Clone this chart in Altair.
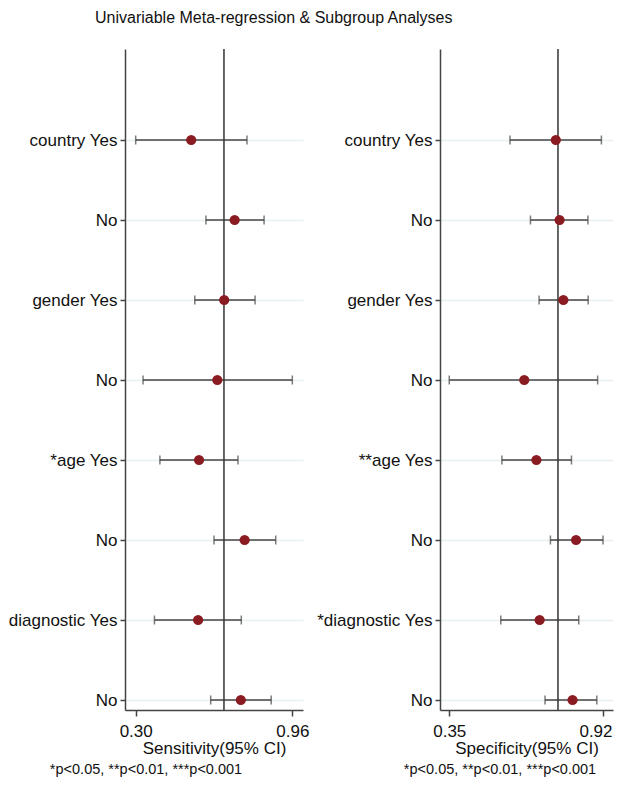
import altair as alt
import pandas as pd

# Subgroup rows, top to bottom
sens_labels = ["country Yes", "No", "gender Yes", "No", "*age Yes", "No", "diagnostic Yes", "No"]
spec_labels = ["country Yes", "No", "gender Yes", "No", "**age Yes", "No", "*diagnostic Yes", "No"]

# Sensitivity: point estimate with 95% CI
sens_est = [0.534, 0.717, 0.673, 0.644, 0.567, 0.759, 0.563, 0.743]
sens_lo = [0.30, 0.596, 0.549, 0.331, 0.402, 0.630, 0.379, 0.616]
sens_hi = [0.769, 0.841, 0.803, 0.96, 0.731, 0.890, 0.745, 0.871]
sens_pooled = 0.672
sens_ticks = [0.30, 0.96]

# Specificity: point estimate with 95% CI
spec_est = [0.745, 0.759, 0.773, 0.628, 0.673, 0.820, 0.685, 0.807]
spec_lo = [0.575, 0.651, 0.683, 0.35, 0.545, 0.725, 0.541, 0.705]
spec_hi = [0.914, 0.864, 0.865, 0.900, 0.803, 0.92, 0.830, 0.897]
spec_pooled = 0.753
spec_ticks = [0.35, 0.92]

footnote = "*p<0.05, **p<0.01, ***p<0.001"
FONT = "Liberation Sans"
H = 661


def panel(est, lo, hi, pooled, labels, ticks, xtitle, xdom, width, extent, note_x, pull_last=0):
    df = pd.DataFrame({"row": list(range(len(est))), "est": est, "lo": lo, "hi": hi})
    arr = "[" + ",".join("'" + s + "'" for s in labels) + "]"
    yscale = alt.Scale(domain=[-1.1375, len(est) - 1 + 0.125], reverse=True, nice=False, zero=False)
    xscale = alt.Scale(domain=xdom, nice=False, zero=False)
    yaxis = alt.Axis(
        values=list(range(len(est))), labelExpr=arr + "[datum.value]", title=None,
        grid=True, gridColor="#e6eef1", gridWidth=1.5,
        tickSize=5, tickColor="#444", tickWidth=1.5,
        domainColor="#444", domainWidth=1.5,
        labelFontSize=17, labelColor="#111", labelPadding=3,
        minExtent=extent, maxExtent=extent,
    )
    last = "datum.value >= %s" % max(ticks)
    xaxis_kw = dict(
        values=ticks, format=".2f", title=xtitle, grid=False,
        tickSize=6, tickColor="#444", tickWidth=1.5,
        domainColor="#444", domainWidth=1.5,
        labelFontSize=17, labelColor="#111", labelPadding=7,
        titleFontSize=17, titleFontWeight="normal", titleColor="#111", titlePadding=1,
    )
    if pull_last:
        # keep the right-hand tick label inside the panel edge
        xaxis_kw["labelAlign"] = {"condition": {"test": last, "value": "right"}, "value": "center"}
        xaxis_kw["labelOffset"] = {"condition": {"test": last, "value": pull_last}, "value": 0}
    xaxis = alt.Axis(**xaxis_kw)
    base = alt.Chart(df)
    ci = base.mark_rule(color="#444", strokeWidth=1.5).encode(
        x=alt.X("lo:Q", scale=xscale, axis=xaxis), x2="hi:Q",
        y=alt.Y("row:Q", scale=yscale, axis=yaxis),
    )
    cap_lo = base.mark_tick(orient="vertical", size=9, thickness=1.5, color="#444").encode(x="lo:Q", y="row:Q")
    cap_hi = base.mark_tick(orient="vertical", size=9, thickness=1.5, color="#444").encode(x="hi:Q", y="row:Q")
    ref = alt.Chart(pd.DataFrame({"v": [pooled]})).mark_rule(color="#333", strokeWidth=1.5).encode(x="v:Q")
    pts = base.mark_circle(size=105, color="#8b1b22", opacity=1).encode(x="est:Q", y="row:Q")
    note = alt.Chart(pd.DataFrame({"t": [footnote]})).mark_text(
        fontSize=14.5, font=FONT, color="#111", baseline="middle", align="center"
    ).encode(x=alt.value(note_x), y=alt.value(H + 60), text="t:N")
    return alt.layer(ci, cap_lo, cap_hi, ref, pts, note).properties(width=width, height=H)


left = panel(sens_est, sens_lo, sens_hi, sens_pooled, sens_labels, sens_ticks,
             "Sensitivity(95% CI)", [0.255, 1.005], 178, 117, 21)
right = panel(spec_est, spec_lo, spec_hi, spec_pooled, spec_labels, spec_ticks,
              "Specificity(95% CI)", [0.3156, 0.957], 173, 126, 60, pull_last=9)

chart = alt.hconcat(left, right, spacing=5).properties(
    title=alt.TitleParams(
        "Univariable Meta-regression & Subgroup Analyses",
        fontSize=16, fontWeight="normal", font=FONT, color="#111", anchor="start", dx=87, offset=22,
    ),
    padding={"left": 7, "top": 10, "right": 4, "bottom": 2},
).configure(font=FONT).configure_view(stroke=None)

chart.save("out.html", embed_options={"renderer": "svg", "actions": False})
